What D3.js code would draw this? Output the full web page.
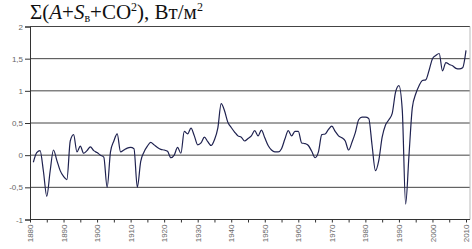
<!DOCTYPE html>
<html><head><meta charset="utf-8">
<script src="https://cdn.jsdelivr.net/npm/d3@7"></script>
<style>body{margin:0;background:#fff}svg{display:block}</style>
</head><body>
<svg id="c" width="472" height="249"></svg>
<script>
const years = d3.range(1881, 2011);
const values = [
-0.11,0.04,0.07,-0.25,-0.64,-0.25,0.08,-0.08,-0.24,-0.33,
-0.38,0.22,0.32,0.05,0.14,0.03,0.07,0.13,0.07,0.04,
0.00,-0.03,-0.50,0.05,0.22,0.33,0.05,0.08,0.11,0.12,
0.10,-0.50,-0.10,0.05,0.14,0.20,0.16,0.12,0.09,0.08,
0.06,-0.04,0.00,0.12,0.03,0.37,0.33,0.42,0.30,0.16,
0.19,0.28,0.21,0.15,0.24,0.42,0.80,0.69,0.51,0.43,
0.36,0.30,0.28,0.22,0.26,0.30,0.38,0.30,0.39,0.27,
0.15,0.08,0.05,0.05,0.10,0.25,0.38,0.30,0.37,0.37,
0.19,0.18,0.15,0.06,-0.04,0.05,0.32,0.33,0.40,0.45,
0.37,0.30,0.27,0.22,0.08,0.20,0.35,0.55,0.59,0.59,
0.57,0.15,-0.24,-0.08,0.28,0.47,0.55,0.65,0.98,1.08,
0.70,-0.76,0.00,0.74,0.95,1.08,1.16,1.17,1.32,1.50,
1.55,1.58,1.31,1.44,1.41,1.39,1.35,1.34,1.36,1.63
];
const yTicks = [-1,-0.5,0,0.5,1,1.5,2];
const xTicks = d3.range(1880, 2011, 10);
const xMinor = d3.range(1880, 2011, 5);

const svg = d3.select("#c");
const x = d3.scaleLinear().domain([1880, 2010]).range([30, 466]);
const y = d3.scaleLinear().domain([-1, 2]).range([219.5, 26.5]);
const fmt = v => String(v).replace(".", ",");

// gridlines
svg.append("g").selectAll("line").data(yTicks.filter(v => v > -1)).join("line")
  .attr("x1", 30).attr("x2", 470).attr("y1", d => y(d)).attr("y2", d => y(d))
  .attr("stroke", "#444").attr("stroke-width", 1);
// right border
svg.append("line").attr("x1", 470).attr("x2", 470).attr("y1", y(2)).attr("y2", y(-1))
  .attr("stroke", "#bbb");

// y axis
const ya = svg.append("g").attr("transform", "translate(30,0)")
  .call(d3.axisLeft(y).tickValues(yTicks).tickFormat(fmt).tickSize(5).tickPadding(2));
ya.select(".domain").attr("stroke", "#333");
ya.selectAll(".tick line").attr("stroke", "#333");
ya.selectAll("text").attr("font-family", "Arial, Liberation Sans, sans-serif").attr("font-size", 8).attr("fill", "#666");

// x axis
const xa = svg.append("g").attr("transform", `translate(0,${y(-1)})`)
  .call(d3.axisBottom(x).tickValues(xMinor).tickFormat(d => d % 10 === 0 ? d : "").tickSize(3).tickPadding(4));
xa.select(".domain").attr("stroke", "#333").attr("d", `M30,0H470`);
xa.selectAll(".tick line").attr("stroke", "#333");
xa.selectAll("text").attr("font-family", "Arial, Liberation Sans, sans-serif").attr("font-size", 8).attr("fill", "#666")
  .attr("transform", "rotate(-90)").attr("text-anchor", "end").attr("dy", "0.32em")
  .attr("x", -5).attr("y", 0);

// line
const line = d3.line().x((d, i) => x(years[i])).y(d => y(d)).curve(d3.curveMonotoneX);
svg.append("path").datum(values).attr("d", line).attr("fill", "none")
  .attr("stroke", "#1f2250").attr("stroke-width", 1.2).attr("stroke-linejoin", "round");

// title
const t = svg.append("text").attr("x", 30).attr("y", 19)
  .attr("font-family", "Liberation Serif, Times New Roman, serif").attr("font-size", 21).attr("fill", "#111");
t.append("tspan").text("Σ(");
t.append("tspan").attr("font-style", "italic").text("A");
t.append("tspan").text("+");
t.append("tspan").attr("font-style", "italic").text("S");
t.append("tspan").attr("font-size", 12).attr("dy", 3).text("в");
t.append("tspan").attr("dy", -3).text("+CO");
t.append("tspan").attr("font-size", 12).attr("dy", -8).text("2");
t.append("tspan").attr("dy", 8).text("), Вт/м");
t.append("tspan").attr("font-size", 12).attr("dy", -8).text("2");
</script>
</body></html>
